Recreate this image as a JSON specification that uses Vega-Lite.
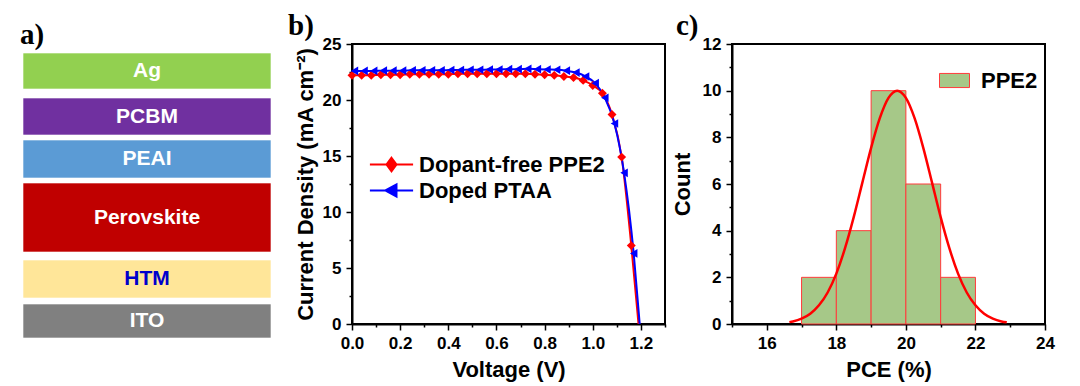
{
  "$schema": "https://vega.github.io/schema/vega-lite/v6.json",
  "padding": {"left": 20, "top": 11, "right": 5, "bottom": 5},
  "background": "white",
  "bounds": "flush",
  "spacing": 67,
  "resolve": {
    "scale": {"color": "independent", "fill": "independent", "shape": "independent"},
    "legend": {"color": "independent", "fill": "independent", "shape": "independent"}
  },
  "config": {
    "font": "Liberation Sans",
    "view": {"stroke": "black", "strokeWidth": 2},
    "axis": {"grid": false, "domainColor": "black", "domainWidth": 2, "tickColor": "black", "tickWidth": 1.5, "labelOverlap": false, "labelFlush": false,
      "labelFont": "Liberation Sans", "labelFontWeight": "bold", "labelFontSize": 17, "labelColor": "black", "labelPadding": 5,
      "titleFont": "Liberation Sans", "titleFontWeight": "bold", "titleFontSize": 22, "titleColor": "black"},
    "title": {"font": "Liberation Serif", "fontSize": 29, "fontWeight": "bold", "color": "black", "anchor": "start", "frame": "group", "baseline": "alphabetic", "offset": -6},
    "legend": {"labelFont": "Liberation Sans", "labelFontWeight": "bold", "labelFontSize": 21, "labelColor": "black", "labelLimit": 400}
  },
  "hconcat": [
    {
      "width": 262, "height": 300,
      "view": {"stroke": null},
      "title": {"text": "a)", "dx": -3},
      "data": {"values": [
        {"layer": "Ag", "top": 9, "bottom": 45},
        {"layer": "PCBM", "top": 54, "bottom": 91},
        {"layer": "PEAI", "top": 96, "bottom": 134},
        {"layer": "Perovskite", "top": 139, "bottom": 208},
        {"layer": "HTM", "top": 216, "bottom": 254},
        {"layer": "ITO", "top": 260, "bottom": 294}
      ]},
      "layer": [
        {
          "mark": {"type": "rect", "stroke": "white", "strokeOpacity": 0.6, "strokeWidth": 1},
          "encoding": {
            "x": {"datum": 0, "type": "quantitative", "scale": {"domain": [0, 1.0565], "nice": false}, "axis": null},
            "x2": {"datum": 1},
            "y": {"field": "top", "type": "quantitative", "scale": {"domain": [0, 300], "reverse": true, "nice": false}, "axis": null},
            "y2": {"field": "bottom"},
            "fill": {"field": "layer", "type": "nominal", "legend": null,
              "scale": {"domain": ["Ag", "PCBM", "PEAI", "Perovskite", "HTM", "ITO"], "range": ["#92d050", "#7030a0", "#5b9bd5", "#c00000", "#ffe699", "#808080"]}}
          }
        },
        {
          "transform": [{"calculate": "(datum.top + datum.bottom) / 2", "as": "mid"}],
          "mark": {"type": "text", "fontSize": 21, "fontWeight": "bold", "baseline": "middle", "align": "center"},
          "encoding": {
            "x": {"datum": 0.5, "type": "quantitative"},
            "y": {"field": "mid", "type": "quantitative"},
            "text": {"field": "layer"},
            "color": {"field": "layer", "type": "nominal", "legend": null,
              "scale": {"domain": ["Ag", "PCBM", "PEAI", "Perovskite", "HTM", "ITO"], "range": ["white", "white", "white", "white", "#0000cc", "white"]}}
          }
        }
      ]
    },
    {
      "width": 313, "height": 280,
      "title": {"text": "b)", "dx": -64},
      "data": {"values": [
        {"device": "Dopant-free PPE2", "V": 0, "J": 22.2},
        {"device": "Dopant-free PPE2", "V": 0.04, "J": 22.2},
        {"device": "Dopant-free PPE2", "V": 0.08, "J": 22.2},
        {"device": "Dopant-free PPE2", "V": 0.12, "J": 22.25},
        {"device": "Dopant-free PPE2", "V": 0.16, "J": 22.25},
        {"device": "Dopant-free PPE2", "V": 0.2, "J": 22.25},
        {"device": "Dopant-free PPE2", "V": 0.24, "J": 22.3},
        {"device": "Dopant-free PPE2", "V": 0.28, "J": 22.3},
        {"device": "Dopant-free PPE2", "V": 0.32, "J": 22.3},
        {"device": "Dopant-free PPE2", "V": 0.36, "J": 22.3},
        {"device": "Dopant-free PPE2", "V": 0.4, "J": 22.3},
        {"device": "Dopant-free PPE2", "V": 0.44, "J": 22.35},
        {"device": "Dopant-free PPE2", "V": 0.48, "J": 22.35},
        {"device": "Dopant-free PPE2", "V": 0.52, "J": 22.35},
        {"device": "Dopant-free PPE2", "V": 0.56, "J": 22.35},
        {"device": "Dopant-free PPE2", "V": 0.6, "J": 22.35},
        {"device": "Dopant-free PPE2", "V": 0.64, "J": 22.35},
        {"device": "Dopant-free PPE2", "V": 0.68, "J": 22.35},
        {"device": "Dopant-free PPE2", "V": 0.72, "J": 22.35},
        {"device": "Dopant-free PPE2", "V": 0.76, "J": 22.3},
        {"device": "Dopant-free PPE2", "V": 0.8, "J": 22.25},
        {"device": "Dopant-free PPE2", "V": 0.84, "J": 22.2},
        {"device": "Dopant-free PPE2", "V": 0.88, "J": 22.1},
        {"device": "Dopant-free PPE2", "V": 0.92, "J": 22.0},
        {"device": "Dopant-free PPE2", "V": 0.96, "J": 21.75},
        {"device": "Dopant-free PPE2", "V": 1.0, "J": 21.3},
        {"device": "Dopant-free PPE2", "V": 1.04, "J": 20.6},
        {"device": "Dopant-free PPE2", "V": 1.08, "J": 18.7},
        {"device": "Dopant-free PPE2", "V": 1.12, "J": 14.9},
        {"device": "Dopant-free PPE2", "V": 1.16, "J": 7.0},
        {"device": "Dopant-free PPE2", "V": 1.19, "J": 0},
        {"device": "Doped PTAA", "V": 0.01, "J": 22.6},
        {"device": "Doped PTAA", "V": 0.05, "J": 22.6},
        {"device": "Doped PTAA", "V": 0.09, "J": 22.6},
        {"device": "Doped PTAA", "V": 0.13, "J": 22.62},
        {"device": "Doped PTAA", "V": 0.17, "J": 22.62},
        {"device": "Doped PTAA", "V": 0.21, "J": 22.62},
        {"device": "Doped PTAA", "V": 0.25, "J": 22.65},
        {"device": "Doped PTAA", "V": 0.29, "J": 22.65},
        {"device": "Doped PTAA", "V": 0.33, "J": 22.65},
        {"device": "Doped PTAA", "V": 0.37, "J": 22.65},
        {"device": "Doped PTAA", "V": 0.41, "J": 22.68},
        {"device": "Doped PTAA", "V": 0.45, "J": 22.68},
        {"device": "Doped PTAA", "V": 0.49, "J": 22.7},
        {"device": "Doped PTAA", "V": 0.53, "J": 22.7},
        {"device": "Doped PTAA", "V": 0.57, "J": 22.72},
        {"device": "Doped PTAA", "V": 0.61, "J": 22.72},
        {"device": "Doped PTAA", "V": 0.65, "J": 22.75},
        {"device": "Doped PTAA", "V": 0.69, "J": 22.75},
        {"device": "Doped PTAA", "V": 0.73, "J": 22.78},
        {"device": "Doped PTAA", "V": 0.77, "J": 22.75},
        {"device": "Doped PTAA", "V": 0.81, "J": 22.72},
        {"device": "Doped PTAA", "V": 0.85, "J": 22.7},
        {"device": "Doped PTAA", "V": 0.89, "J": 22.62},
        {"device": "Doped PTAA", "V": 0.93, "J": 22.45},
        {"device": "Doped PTAA", "V": 0.97, "J": 22.1},
        {"device": "Doped PTAA", "V": 1.01, "J": 21.5},
        {"device": "Doped PTAA", "V": 1.05, "J": 20.2},
        {"device": "Doped PTAA", "V": 1.09, "J": 17.9},
        {"device": "Doped PTAA", "V": 1.13, "J": 13.5},
        {"device": "Doped PTAA", "V": 1.17, "J": 6.3},
        {"device": "Doped PTAA", "V": 1.195, "J": 0}
      ]},
      "encoding": {
        "x": {"field": "V", "type": "quantitative", "scale": {"domain": [0, 1.3], "nice": false},
          "axis": {"title": "Voltage (V)", "titlePadding": 8,
            "values": [0, 0.1, 0.2, 0.3, 0.4, 0.5, 0.6, 0.7, 0.8, 0.9, 1.0, 1.1, 1.2, 1.3],
            "labelExpr": "round(datum.value*10)%2==1 ? '' : format(datum.value,'.1f')",
            "tickSize": {"condition": {"test": "round(datum.value*10)%2==1", "value": 3}, "value": 6}}},
        "y": {"field": "J", "type": "quantitative", "scale": {"domain": [0, 25], "nice": false},
          "axis": {"title": "Current Density (mA cm⁻²)", "titlePadding": 5,
            "values": [0, 2.5, 5, 7.5, 10, 12.5, 15, 17.5, 20, 22.5, 25],
            "labelExpr": "datum.value%5==0 ? format(datum.value,'d') : ''",
            "tickSize": {"condition": {"test": "datum.value%5!=0", "value": 3}, "value": 6}}},
        "color": {"field": "device", "type": "nominal",
          "scale": {"domain": ["Dopant-free PPE2", "Doped PTAA"], "range": ["#ff0000", "#0000ff"]},
          "legend": {"orient": "none", "legendX": 25, "legendY": 106, "title": null, "symbolSize": 729, "labelOffset": 13, "rowPadding": 0, "labelFontSize": 22,
            "encode": {"symbols": {"update": {
              "shape": {"signal": "datum.value==='Dopant-free PPE2' ? 'M-1.6,0H1.6M0,-0.5L0.37,0L0,0.5L-0.37,0Z' : 'M-1.6,0H1.6M-0.45,0L0.37,-0.45L0.37,0.45Z'"},
              "fill": {"signal": "datum.value==='Dopant-free PPE2' ? '#ff0000' : '#0000ff'"},
              "stroke": {"signal": "datum.value==='Dopant-free PPE2' ? '#ff0000' : '#0000ff'"},
              "strokeWidth": {"value": 2},
              "opacity": {"value": 1}}}}}}
      },
      "layer": [
        {"mark": {"type": "line", "strokeWidth": 2, "interpolate": "monotone"}},
        {"transform": [{"filter": "datum.J > 0 && datum.device === 'Dopant-free PPE2'"}],
          "mark": {"type": "point", "shape": "diamond", "filled": true, "size": 80, "opacity": 1}},
        {"transform": [{"filter": "datum.J > 0 && datum.device === 'Doped PTAA'"}],
          "mark": {"type": "point", "shape": "triangle-left", "filled": true, "size": 75, "opacity": 1}}
      ]
    },
    {
      "width": 313, "height": 280,
      "title": {"text": "c)", "dx": -56},
      "layer": [
        {
          "data": {"values": [
            {"series": "PPE2", "lo": 17, "hi": 18, "count": 2},
            {"series": "PPE2", "lo": 18, "hi": 19, "count": 4},
            {"series": "PPE2", "lo": 19, "hi": 20, "count": 10},
            {"series": "PPE2", "lo": 20, "hi": 21, "count": 6},
            {"series": "PPE2", "lo": 21, "hi": 22, "count": 2}
          ]},
          "mark": {"type": "rect", "stroke": "#ff3b3b", "strokeWidth": 1},
          "encoding": {
            "x": {"field": "lo", "type": "quantitative", "scale": {"domain": [15, 24], "nice": false},
              "axis": {"title": "PCE (%)", "titlePadding": 8,
                "values": [15, 16, 17, 18, 19, 20, 21, 22, 23, 24],
                "labelExpr": "datum.value%2==1 ? '' : format(datum.value,'d')",
                "tickSize": {"condition": {"test": "datum.value%2==1", "value": 3}, "value": 6}}},
            "x2": {"field": "hi"},
            "y": {"field": "count", "type": "quantitative", "scale": {"domain": [0, 12], "nice": false},
              "axis": {"title": "Count", "titlePadding": 8,
                "values": [0, 1, 2, 3, 4, 5, 6, 7, 8, 9, 10, 11, 12],
                "labelExpr": "datum.value%2==1 ? '' : format(datum.value,'d')",
                "tickSize": {"condition": {"test": "datum.value%2==1", "value": 3}, "value": 6}}},
            "y2": {"datum": 0},
            "fill": {"field": "series", "type": "nominal", "scale": {"domain": ["PPE2"], "range": ["#a6c888"]},
              "legend": {"orient": "none", "legendX": 207, "legendY": 21, "title": null, "symbolSize": 900, "labelFontSize": 22,
                "symbolType": "M-1,-0.47H1V0.47H-1Z", "symbolStrokeColor": "#ff3b3b", "symbolStrokeWidth": 1, "symbolOpacity": 1, "labelOffset": 11}}
          }
        },
        {
          "data": {"values": [
            {"pce": 16.65, "fit": 0.08}, {"pce": 16.75, "fit": 0.11}, {"pce": 17.0, "fit": 0.23},
            {"pce": 17.25, "fit": 0.44}, {"pce": 17.5, "fit": 0.8}, {"pce": 17.75, "fit": 1.35},
            {"pce": 18.0, "fit": 2.16}, {"pce": 18.25, "fit": 3.25}, {"pce": 18.5, "fit": 4.58},
            {"pce": 18.75, "fit": 6.07}, {"pce": 19.0, "fit": 7.55}, {"pce": 19.25, "fit": 8.82},
            {"pce": 19.5, "fit": 9.69}, {"pce": 19.75, "fit": 10.0}, {"pce": 20.0, "fit": 9.69},
            {"pce": 20.25, "fit": 8.82}, {"pce": 20.5, "fit": 7.55}, {"pce": 20.75, "fit": 6.07},
            {"pce": 21.0, "fit": 4.58}, {"pce": 21.25, "fit": 3.25}, {"pce": 21.5, "fit": 2.16},
            {"pce": 21.75, "fit": 1.35}, {"pce": 22.0, "fit": 0.8}, {"pce": 22.25, "fit": 0.44},
            {"pce": 22.5, "fit": 0.23}, {"pce": 22.75, "fit": 0.11}, {"pce": 22.9, "fit": 0.07}
          ]},
          "mark": {"type": "line", "color": "#ff0000", "strokeWidth": 2.5, "interpolate": "monotone"},
          "encoding": {
            "x": {"field": "pce", "type": "quantitative",
              "axis": {"title": "PCE (%)", "titlePadding": 8,
                "values": [15, 16, 17, 18, 19, 20, 21, 22, 23, 24],
                "labelExpr": "datum.value%2==1 ? '' : format(datum.value,'d')",
                "tickSize": {"condition": {"test": "datum.value%2==1", "value": 3}, "value": 6}}},
            "y": {"field": "fit", "type": "quantitative",
              "axis": {"title": "Count", "titlePadding": 8,
                "values": [0, 1, 2, 3, 4, 5, 6, 7, 8, 9, 10, 11, 12],
                "labelExpr": "datum.value%2==1 ? '' : format(datum.value,'d')",
                "tickSize": {"condition": {"test": "datum.value%2==1", "value": 3}, "value": 6}}}
          }
        }
      ]
    }
  ]
}
